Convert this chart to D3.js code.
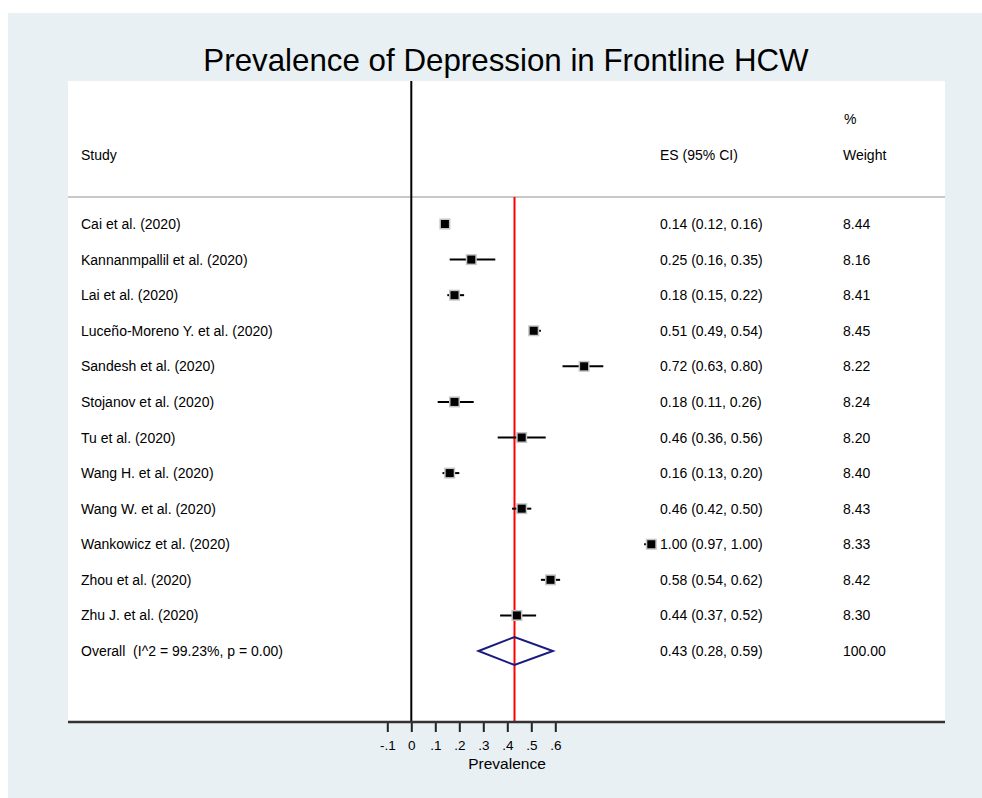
<!DOCTYPE html>
<html>
<head>
<meta charset="utf-8">
<script src="https://d3js.org/d3.v7.min.js"></script>
<style>
  body { margin: 0; background: #fff; }
  text { font-family: "Liberation Sans", Arial, Helvetica, sans-serif; fill: #000; }
</style>
</head>
<body>
<script>
// study data
let studies = ["Cai et al. (2020)", "Kannanmpallil et al. (2020)", "Lai et al. (2020)",
  "Luceño-Moreno Y. et al. (2020)", "Sandesh et al. (2020)", "Stojanov et al. (2020)",
  "Tu et al. (2020)", "Wang H. et al. (2020)", "Wang W. et al. (2020)",
  "Wankowicz et al. (2020)", "Zhou et al. (2020)", "Zhu J. et al. (2020)"];
let es = [0.14, 0.25, 0.18, 0.51, 0.72, 0.18, 0.46, 0.16, 0.46, 1.00, 0.58, 0.44];
let lo = [0.12, 0.16, 0.15, 0.49, 0.63, 0.11, 0.36, 0.13, 0.42, 0.97, 0.54, 0.37];
let hi = [0.16, 0.35, 0.22, 0.54, 0.80, 0.26, 0.56, 0.20, 0.50, 1.00, 0.62, 0.52];
let weights = ["8.44", "8.16", "8.41", "8.45", "8.22", "8.24", "8.20", "8.40", "8.43", "8.33", "8.42", "8.30"];
let overall = { label: "Overall  (I^2 = 99.23%, p = 0.00)", es: 0.43, lo: 0.28, hi: 0.59, weight: "100.00" };
let tickVals = [-0.1, 0, 0.1, 0.2, 0.3, 0.4, 0.5, 0.6];

let w = 982, h = 798;
let panel = { left: 68, right: 945, top: 81, bottom: 722 };
let fs = "14px";

let svg = d3.select("body").append("svg")
  .attr("width", w)
  .attr("height", h);

svg.append("rect").attr("x", 8).attr("y", 13).attr("width", w - 8).attr("height", h - 13)
  .attr("fill", "#e8f0f3");
svg.append("rect").attr("x", panel.left).attr("y", panel.top)
  .attr("width", panel.right - panel.left).attr("height", panel.bottom - panel.top)
  .attr("fill", "#fff");

svg.append("text")
  .attr("x", 506).attr("y", 71)
  .attr("text-anchor", "middle")
  .style("font-size", "31.3px")
  .text("Prevalence of Depression in Frontline HCW");

let x = d3.scaleLinear().domain([0, 1]).range([411.3, 651.3]);
let y = d3.scaleLinear().domain([0, 12]).range([224, 651]);

let fmt = function(v) {
  if (v === 0) return "0";
  return d3.format(".1f")(Math.abs(v)).replace("0.", v < 0 ? "-." : ".");
};

// header
let colStudy = 81, colES = 660, colW = 843;
svg.append("text").attr("x", colStudy).attr("y", 160).style("font-size", fs).text("Study");
svg.append("text").attr("x", colES).attr("y", 160).style("font-size", fs).text("ES (95% CI)");
svg.append("text").attr("x", colW + 1).attr("y", 124).style("font-size", fs).text("%");
svg.append("text").attr("x", colW).attr("y", 160).style("font-size", fs).text("Weight");

svg.append("line")
  .attr("x1", panel.left).attr("x2", panel.right)
  .attr("y1", 197).attr("y2", 197)
  .attr("stroke", "#c8c8c8").attr("stroke-width", 2);

// null line and overall line
svg.append("line")
  .attr("x1", x(0)).attr("x2", x(0))
  .attr("y1", panel.top).attr("y2", panel.bottom)
  .attr("stroke", "#000").attr("stroke-width", 2);
svg.append("line")
  .attr("x1", x(overall.es)).attr("x2", x(overall.es))
  .attr("y1", 197).attr("y2", panel.bottom)
  .attr("stroke", "#ff0000").attr("stroke-width", 2);

let rows = studies.map((s, i) => ({ s: s, es: es[i], lo: lo[i], hi: hi[i], wt: weights[i], i: i }));

let g = svg.selectAll("g.row").data(rows).join("g").attr("class", "row");

g.append("line")
  .attr("x1", d => x(d.lo)).attr("x2", d => x(d.hi))
  .attr("y1", d => y(d.i)).attr("y2", d => y(d.i))
  .attr("stroke", "#000").attr("stroke-width", 2);
g.append("rect")
  .attr("x", d => x(d.es) - 5.5).attr("y", d => y(d.i) - 5.5)
  .attr("width", 11).attr("height", 11)
  .attr("fill", "#c4c4c4");
g.append("rect")
  .attr("x", d => x(d.es) - 4).attr("y", d => y(d.i) - 4)
  .attr("width", 8).attr("height", 8)
  .attr("fill", "#000");
g.append("text").attr("x", colStudy).attr("y", d => y(d.i) + 5)
  .style("font-size", fs).text(d => d.s);
g.append("text").attr("x", colES).attr("y", d => y(d.i) + 5)
  .style("font-size", fs)
  .text(d => d.es.toFixed(2) + " (" + d.lo.toFixed(2) + ", " + d.hi.toFixed(2) + ")");
g.append("text").attr("x", colW).attr("y", d => y(d.i) + 5)
  .style("font-size", fs).text(d => d.wt);

// overall diamond
let yo = y(12);
svg.append("polygon")
  .attr("points", [[x(overall.lo), yo], [x(overall.es), yo - 14], [x(overall.hi), yo], [x(overall.es), yo + 14]]
    .map(p => p.join(",")).join(" "))
  .attr("fill", "none").attr("stroke", "#1a1a80").attr("stroke-width", 2);
svg.append("text").attr("x", colStudy).attr("y", yo + 5).style("font-size", fs)
  .style("white-space", "pre").attr("xml:space", "preserve").text(overall.label);
svg.append("text").attr("x", colES).attr("y", yo + 5).style("font-size", fs)
  .text(overall.es.toFixed(2) + " (" + overall.lo.toFixed(2) + ", " + overall.hi.toFixed(2) + ")");
svg.append("text").attr("x", colW).attr("y", yo + 5).style("font-size", fs).text(overall.weight);

// axis
let axis = svg.append("g")
  .attr("transform", "translate(0," + panel.bottom + ")")
  .call(d3.axisBottom(x).tickValues(tickVals).tickFormat(fmt).tickSize(10).tickPadding(8));
axis.select(".domain").remove();
axis.selectAll(".tick line").attr("stroke", "#222").attr("stroke-width", 2);
axis.selectAll(".tick text").style("font-size", "13.5px")
  .style("font-family", "'Liberation Sans', Arial, sans-serif").attr("fill", "#000");

svg.append("line")
  .attr("x1", panel.left).attr("x2", panel.right)
  .attr("y1", panel.bottom).attr("y2", panel.bottom)
  .attr("stroke", "#333").attr("stroke-width", 2.5);

svg.append("text")
  .attr("x", 507).attr("y", 769)
  .attr("text-anchor", "middle")
  .style("font-size", "15.5px")
  .text("Prevalence");
</script>
</body>
</html>
